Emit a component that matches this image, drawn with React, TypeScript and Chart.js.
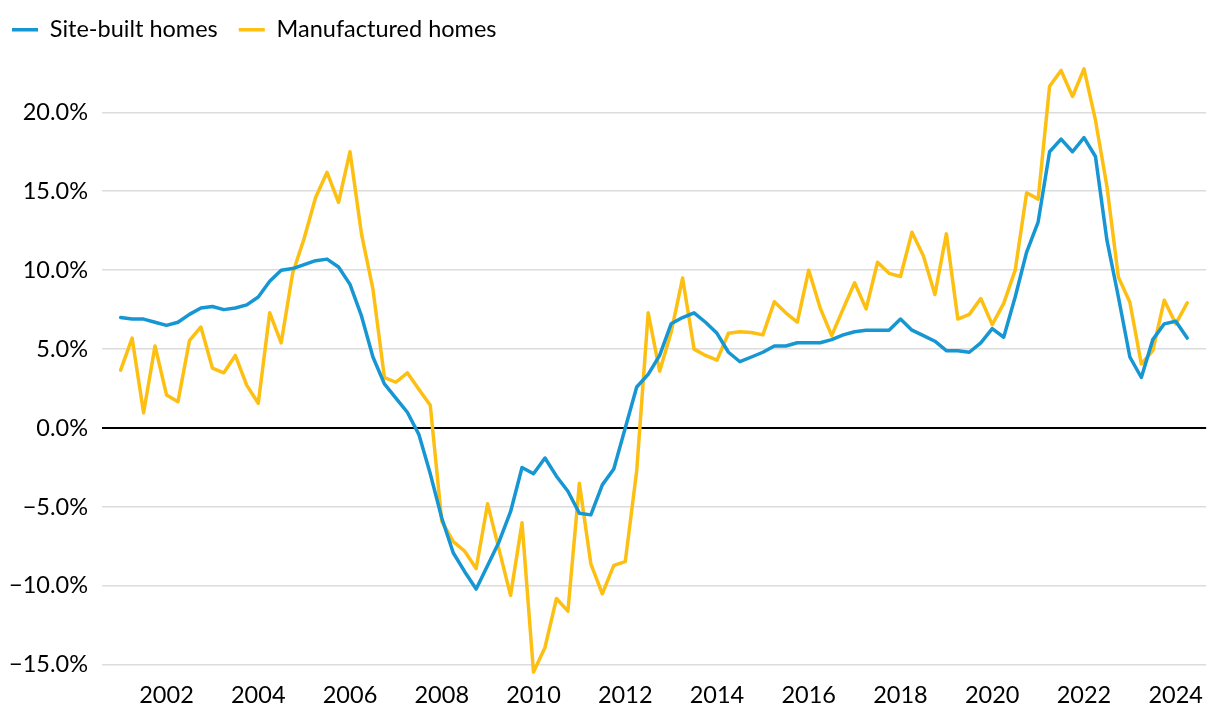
import React, { useEffect, useRef } from "react";
import { Chart, registerables } from "chart.js";

Chart.register(...registerables);

// Quarterly observations, 2001 Q1 through 2024 Q2 (year-over-year % change)
const firstYear = 2001;
const quarterCount = 94;
const quarters: string[] = [];
for (let i = 0; i < quarterCount; i++) {
  quarters.push(`${firstYear + Math.floor(i / 4)}Q${(i % 4) + 1}`);
}

const siteBuilt = [
  7.0, 6.9, 6.9, 6.7, 6.5, 6.7, 7.2, 7.6, 7.7, 7.5, 7.6, 7.8,
  8.3, 9.3, 10.0, 10.1, 10.35, 10.6, 10.7, 10.2, 9.1, 7.1, 4.5, 2.8,
  1.9, 1.0, -0.4, -2.9, -5.7, -7.9, -9.1, -10.2, -8.7, -7.2, -5.3, -2.5,
  -2.9, -1.9, -3.05, -4.0, -5.4, -5.5, -3.6, -2.6, 0.0, 2.6, 3.4, 4.6,
  6.6, 7.0, 7.3, 6.7, 6.0, 4.8, 4.2, 4.5, 4.8, 5.2, 5.2, 5.4,
  5.4, 5.4, 5.6, 5.9, 6.1, 6.2, 6.2, 6.2, 6.9, 6.2, 5.85, 5.5,
  4.9, 4.9, 4.8, 5.4, 6.3, 5.75, 8.3, 11.15, 13.05, 17.5, 18.3, 17.5,
  18.4, 17.2, 11.9, 8.3, 4.5, 3.2, 5.6, 6.6, 6.76, 5.7,
];

const manufactured = [
  3.67, 5.7, 0.97, 5.2, 2.1, 1.67, 5.53, 6.4, 3.8, 3.5, 4.6, 2.7,
  1.57, 7.3, 5.4, 9.8, 12.0, 14.6, 16.2, 14.3, 17.5, 12.3, 8.8, 3.2,
  2.9, 3.5, 2.45, 1.44, -5.9, -7.2, -7.8, -8.9, -4.8, -7.7, -10.6, -6.0,
  -15.46, -13.9, -10.8, -11.6, -3.5, -8.6, -10.5, -8.7, -8.46, -2.7, 7.3, 3.6,
  6.06, 9.5, 5.0, 4.6, 4.3, 6.0, 6.1, 6.05, 5.9, 8.0, 7.3, 6.7,
  10.0, 7.6, 5.85, 7.55, 9.2, 7.55, 10.5, 9.8, 9.6, 12.4, 10.9, 8.46,
  12.3, 6.9, 7.2, 8.2, 6.55, 7.9, 10.0, 14.9, 14.5, 21.65, 22.65, 21.0,
  22.75, 19.5, 15.3, 9.56, 7.97, 4.05, 4.9, 8.1, 6.6, 7.93,
];

const seriesNames = ["Site-built homes", "Manufactured homes"];
const seriesColors = ["#1696d2", "#fdbf11"];

const xTickYears = [2002, 2004, 2006, 2008, 2010, 2012, 2014, 2016, 2018, 2020, 2022, 2024];
const yTickValues = [-15, -10, -5, 0, 5, 10, 15, 20];

const quarterToX = (label: string) => {
  const y = parseInt(label.slice(0, 4), 10);
  const q = parseInt(label.slice(5), 10);
  return y + (q - 1) / 4;
};

const fmtPct = (v: number) => {
  const s = Math.abs(v).toFixed(1) + "%";
  return v < 0 ? "\u2212" + s : s;
};

export default function App() {
  const canvasRef = useRef<HTMLCanvasElement | null>(null);

  useEffect(() => {
    if (!canvasRef.current) return;
    const font = { family: "Lato", size: 23.5 };
    const toPoints = (vals: number[]) =>
      vals.map((v, i) => ({ x: quarterToX(quarters[i]), y: v }));

    const chart = new Chart(canvasRef.current, {
      type: "line",
      data: {
        datasets: [siteBuilt, manufactured].map((vals, k) => ({
          label: seriesNames[k],
          data: toPoints(vals),
          borderColor: seriesColors[k],
          backgroundColor: seriesColors[k],
          borderWidth: 3.5,
          borderCapStyle: "round" as const,
          borderJoinStyle: "round" as const,
          pointRadius: 0,
          tension: 0,
          fill: false,
        })),
      },
      options: {
        animation: false,
        responsive: true,
        maintainAspectRatio: false,
        layout: { padding: 0 },
        plugins: {
          tooltip: { enabled: false },
          legend: {
            position: "top",
            align: "start",
            labels: {
              usePointStyle: true,
              pointStyle: "line",
              pointStyleWidth: 26,
              boxHeight: 24,
              padding: 21,
              color: "#000",
              font,
            },
          },
        },
        scales: {
          x: {
            type: "linear",
            min: 2000.594,
            max: 2024.663,
            border: { display: false },
            grid: { display: false, drawTicks: false },
            afterBuildTicks: (s: any) => {
              s.ticks = xTickYears.map((v) => ({ value: v }));
            },
            ticks: {
              padding: 7,
              color: "#000",
              font,
              autoSkip: false,
              maxRotation: 0,
              callback: (v: any) => String(v),
            },
          },
          y: {
            type: "linear",
            min: -15.63,
            max: 23.85,
            border: { display: false },
            afterFit: (s: any) => {
              s.width = 111;
            },
            afterBuildTicks: (s: any) => {
              s.ticks = yTickValues.map((v) => ({ value: v }));
            },
            grid: {
              drawTicks: false,
              color: (ctx: any) => (ctx.tick && ctx.tick.value === 0 ? "#000000" : "#dcdcdc"),
              lineWidth: (ctx: any) => (ctx.tick && ctx.tick.value === 0 ? 2 : 1.5),
            },
            ticks: {
              padding: 14,
              color: "#000",
              font,
              callback: (v: any) => fmtPct(Number(v)),
            },
          },
        },
      },
    });
    return () => chart.destroy();
  }, []);

  return (
    <div style={{ position: "absolute", left: -9, top: -3, width: 1219, height: 720 }}>
      <canvas ref={canvasRef} />
    </div>
  );
}
